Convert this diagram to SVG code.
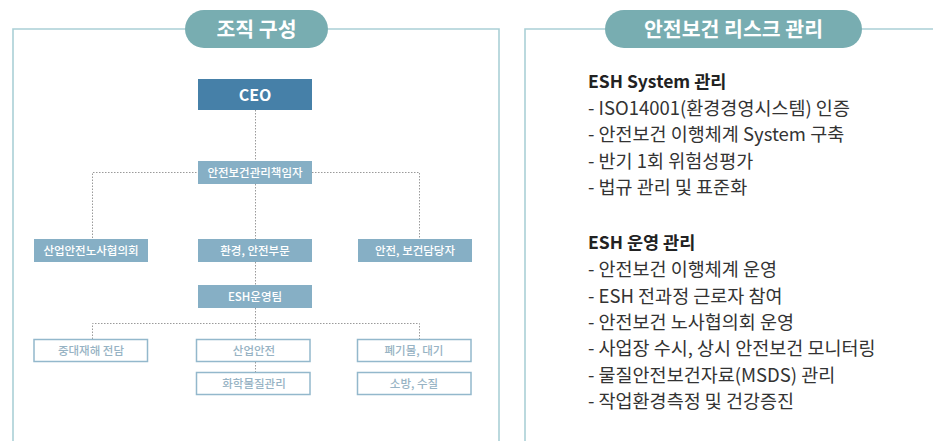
<svg xmlns="http://www.w3.org/2000/svg" width="933" height="441" viewBox="0 0 933 441">
<style>
.frame{fill:none;stroke:#abd0d6;stroke-width:1.6}
.pill{fill:#78adb1}
.ptxt{font-family:"Noto Sans CJK KR","Noto Sans",sans-serif;font-weight:700;font-size:20.5px;fill:#fff;text-anchor:middle}
.dark{fill:#4680a8}
.fill{fill:#86afc5}
.out{fill:#fff;stroke:#93b8cc;stroke-width:1.5}
.btxt{font-family:"Noto Sans CJK KR","Noto Sans",sans-serif;font-weight:500;font-size:11.5px;fill:#fff;text-anchor:middle}
.otxt{font-family:"Noto Sans CJK KR","Noto Sans",sans-serif;font-weight:500;font-size:11.5px;fill:#97b3c4;text-anchor:middle}
.conn{fill:none;stroke:#9a9a9a;stroke-width:1;stroke-dasharray:1.5 1.5}
.h{font-family:"Noto Sans CJK KR","Noto Sans",sans-serif;font-weight:700;font-size:17.5px;fill:#222}
.t{font-family:"Noto Sans CJK KR","Noto Sans",sans-serif;font-size:18.5px;fill:#333}
</style>
<rect width="933" height="441" fill="#fff"/>
<g id="left-frame">
<path class="frame" d="M13,441 V29 H185 M328,29 H499 V441"/>
<rect class="pill" x="185" y="10" width="143" height="38" rx="19"/>
<text class="ptxt" x="256.5" y="36.5">조직 구성</text>
</g>
<g id="right-frame">
<path class="frame" d="M525,441 V29 H605 M862,29 H933"/>
<rect class="pill" x="605" y="10" width="257" height="38" rx="19"/>
<text class="ptxt" x="733.5" y="36.5">안전보건 리스크 관리</text>
</g>
<g id="connectors">
<path class="conn" d="M255.5,110 V161 M255.5,184 V239 M255.5,262 V285 M255.5,308 V339 M255.5,362 V372"/>
<path class="conn" d="M92.5,238 V172.5 H198 M312,172.5 H419.5 V238"/>
<path class="conn" d="M92.5,339 V323.5 H419.5 V339"/>
</g>
<g id="ceo"><rect class="dark" x="198" y="79" width="114" height="31"/><text x="255" y="100.5" font-family="'Noto Sans CJK KR','Noto Sans',sans-serif" font-weight="700" font-size="16" fill="#fff" text-anchor="middle">CEO</text></g>
<g id="manager"><rect class="fill" x="198" y="161" width="114" height="23"/><text class="btxt" x="255" y="176.5">안전보건관리책임자</text></g>
<g id="council"><rect class="fill" x="34" y="239" width="114" height="23"/><text class="btxt" x="91" y="254.5">산업안전노사협의회</text></g>
<g id="env-safety"><rect class="fill" x="198" y="239" width="114" height="23"/><text class="btxt" x="255" y="254.5">환경, 안전부문</text></g>
<g id="officer"><rect class="fill" x="358" y="239" width="114" height="23"/><text class="btxt" x="415" y="254.5">안전, 보건담당자</text></g>
<g id="esh-team"><rect class="fill" x="198" y="285" width="114" height="23"/><text class="btxt" x="255" y="300.5">ESH운영팀</text></g>
<g id="serious"><rect class="out" x="34" y="339.5" width="113.5" height="22"/><text class="otxt" x="91" y="354.5">중대재해 전담</text></g>
<g id="industrial"><rect class="out" x="196.5" y="339.5" width="113.5" height="22"/><text class="otxt" x="254" y="354.5">산업안전</text></g>
<g id="waste"><rect class="out" x="357.5" y="339.5" width="113.5" height="22"/><text class="otxt" x="414" y="354.5">폐기물, 대기</text></g>
<g id="chemical"><rect class="out" x="196.5" y="372.5" width="113.5" height="22"/><text class="otxt" x="254" y="387.5">화학물질관리</text></g>
<g id="fire"><rect class="out" x="357.5" y="372.5" width="113.5" height="22"/><text class="otxt" x="414" y="387.5">소방, 수질</text></g>
<g id="risk-text">
<text class="h" x="588" y="88">ESH System 관리</text>
<text class="t" x="588" y="114.5">- ISO14001(환경경영시스템) 인증</text>
<text class="t" x="588" y="141">- 안전보건 이행체계 System 구축</text>
<text class="t" x="588" y="167.5">- 반기 1회 위험성평가</text>
<text class="t" x="588" y="193.5">- 법규 관리 및 표준화</text>
<text class="h" x="588" y="249">ESH 운영 관리</text>
<text class="t" x="588" y="276">- 안전보건 이행체계 운영</text>
<text class="t" x="588" y="302.5">- ESH 전과정 근로자 참여</text>
<text class="t" x="588" y="328.5">- 안전보건 노사협의회 운영</text>
<text class="t" x="588" y="355">- 사업장 수시, 상시 안전보건 모니터링</text>
<text class="t" x="588" y="381.5">- 물질안전보건자료(MSDS) 관리</text>
<text class="t" x="588" y="407.5">- 작업환경측정 및 건강증진</text>
</g>
</svg>
